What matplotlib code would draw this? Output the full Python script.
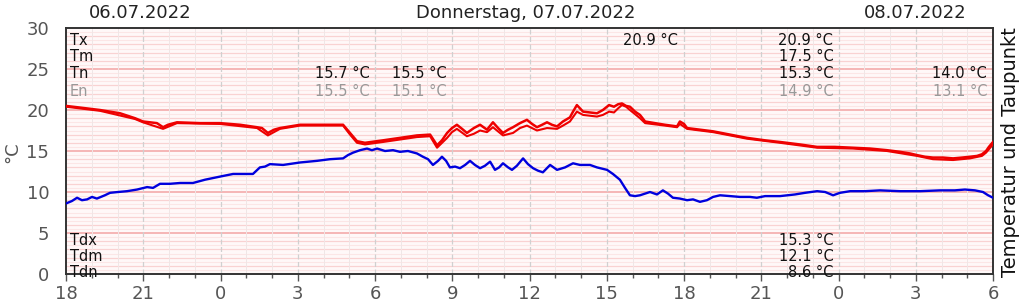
import numpy as np
import matplotlib
matplotlib.use("Agg")
import matplotlib.pyplot as plt
from matplotlib.ticker import MultipleLocator

# hours counted from 06.07.2022 18:00
temp_h = [0, 0.54, 1.32, 2.10, 2.68, 2.99, 3.26, 3.53, 3.77, 3.96,
          4.31, 5.20, 5.98, 6.76, 7.42, 7.61, 7.84, 8.08, 8.31, 9.09,
          9.86, 10.76, 11.03, 11.30, 11.61, 12.31, 12.97, 13.63, 14.14, 14.41,
          14.60, 14.80, 14.99, 15.18, 15.38, 15.57, 15.84, 16.08, 16.35, 16.58,
          16.78, 16.97, 17.17, 17.36, 17.63, 17.90, 18.10, 18.29, 18.49, 18.68,
          18.87, 19.07, 19.30, 19.57, 19.69, 19.84, 19.96, 20.08, 20.35, 20.62,
          20.85, 21.09, 21.28, 21.44, 21.59, 21.75, 21.90, 22.10, 22.29, 22.49,
          22.87, 23.26, 23.73, 23.84, 24.00, 24.12, 24.62, 25.13, 25.79, 26.45,
          27.15, 27.73, 28.50, 29.17, 29.86, 30.56, 31.22, 31.88, 32.39, 32.78,
          33.05, 33.36, 33.67, 34.06, 34.45, 34.80, 35.11, 35.38, 35.57, 35.73,
          35.84, 36.0]
temp = [20.5, 20.3, 20.0, 19.6, 19.0, 18.6, 18.5, 18.4, 17.9, 18.2,
        18.5, 18.4, 18.4, 18.2, 17.9, 17.8, 17.2, 17.6, 17.8, 18.2,
        18.2, 18.2, 17.2, 16.2, 16.0, 16.3, 16.6, 16.9, 17.0, 15.7,
        16.3, 17.2, 17.8, 18.2, 17.7, 17.2, 17.8, 18.2, 17.6, 18.5,
        17.8, 17.2, 17.6, 17.9, 18.4, 18.8, 18.3, 17.9, 18.2, 18.5,
        18.2, 18.0, 18.6, 19.1, 19.8, 20.6, 20.2, 19.8, 19.7, 19.6,
        20.0, 20.6, 20.4, 20.7, 20.8, 20.5, 20.4, 19.8, 19.4, 18.6,
        18.4, 18.2, 18.0, 18.6, 18.3, 17.8, 17.6, 17.4, 17.0, 16.6,
        16.3, 16.1, 15.8, 15.5, 15.5, 15.4, 15.3, 15.1, 14.9, 14.7,
        14.5, 14.3, 14.2, 14.2, 14.1, 14.2, 14.3, 14.4, 14.6, 15.0,
        15.5, 16.1]

temp2_h = [0, 1.32, 2.68, 2.99, 3.77, 4.31, 5.98, 7.42, 7.84, 8.31,
           9.09, 10.76, 11.03, 11.30, 11.61, 12.31, 13.63, 14.14, 14.41, 14.80,
           14.99, 15.18, 15.57, 15.84, 16.08, 16.35, 16.58, 16.97, 17.36, 17.63,
           17.90, 18.29, 18.68, 19.07, 19.30, 19.57, 19.84, 20.08, 20.35, 20.62,
           20.85, 21.09, 21.28, 21.44, 21.59, 21.75, 21.90, 22.29, 22.49, 23.26,
           23.73, 23.84, 24.12, 25.13, 26.45, 27.73, 29.17, 30.56, 31.88, 33.05,
           33.67, 34.45, 35.11, 35.57, 35.73, 36.0]
temp2 = [20.4, 19.9, 18.9, 18.5, 17.7, 18.4, 18.3, 17.8, 16.9, 17.7,
         18.1, 18.1, 17.0, 16.0, 15.8, 16.1, 16.7, 16.8, 15.4, 16.6,
         17.3, 17.7, 16.8, 17.1, 17.5, 17.3, 17.9, 16.9, 17.2, 17.8,
         18.1, 17.5, 17.8, 17.7, 18.1, 18.6, 19.8, 19.4, 19.3, 19.2,
         19.4, 19.8, 19.7, 20.2, 20.6, 20.4, 20.0, 19.0, 18.4, 18.1,
         17.9, 18.3, 17.7, 17.3, 16.5, 16.0, 15.4, 15.3, 15.0, 14.4,
         14.0, 13.9, 14.1, 14.4, 14.8, 15.8]

dew_h = [0, 0.23, 0.43, 0.62, 0.82, 1.01, 1.20, 1.51, 1.71, 2.02,
         2.37, 2.76, 3.15, 3.38, 3.65, 4.04, 4.43, 4.93, 5.40, 5.86,
         6.17, 6.49, 6.95, 7.26, 7.53, 7.73, 7.92, 8.43, 9.09, 9.75,
         10.25, 10.76, 10.95, 11.15, 11.42, 11.69, 11.88, 12.08, 12.39, 12.70,
         12.97, 13.28, 13.63, 13.86, 14.06, 14.25, 14.45, 14.60, 14.76, 14.91,
         15.11, 15.30, 15.50, 15.69, 15.88, 16.08, 16.27, 16.47, 16.66, 16.82,
         16.97, 17.17, 17.32, 17.51, 17.75, 17.94, 18.14, 18.33, 18.52, 18.80,
         19.07, 19.38, 19.69, 19.96, 20.35, 20.62, 21.01, 21.24, 21.51, 21.71,
         21.90, 22.10, 22.29, 22.68, 22.95, 23.18, 23.38, 23.57, 23.84, 24.12,
         24.35, 24.62, 24.89, 25.13, 25.40, 25.79, 26.17, 26.56, 26.83, 27.15,
         27.73, 28.31, 28.70, 29.17, 29.48, 29.79, 30.06, 30.45, 31.03, 31.61,
         32.39, 33.17, 33.94, 34.52, 34.91, 35.30, 35.61, 35.81, 36.0]
dew = [8.6, 8.9, 9.3, 9.0, 9.1, 9.4, 9.2, 9.6, 9.9, 10.0,
       10.1, 10.3, 10.6, 10.5, 11.0, 11.0, 11.1, 11.1, 11.5, 11.8,
       12.0, 12.2, 12.2, 12.2, 13.0, 13.1, 13.4, 13.3, 13.6, 13.8,
       14.0, 14.1, 14.5, 14.8, 15.1, 15.3, 15.1, 15.3, 15.0, 15.1,
       14.9, 15.0, 14.7, 14.3, 14.0, 13.3, 13.8, 14.3, 13.8, 13.0,
       13.1, 12.9, 13.3, 13.8, 13.3, 12.9, 13.2, 13.7, 12.7, 13.0,
       13.5, 13.0, 12.7, 13.2, 14.1, 13.4, 12.9, 12.6, 12.4, 13.3,
       12.7, 13.0, 13.5, 13.3, 13.3, 13.0, 12.7, 12.2, 11.5, 10.5,
       9.6, 9.5, 9.6, 10.0, 9.7, 10.2, 9.8, 9.3, 9.2, 9.0,
       9.1, 8.8, 9.0, 9.4, 9.6, 9.5, 9.4, 9.4, 9.3, 9.5,
       9.5, 9.7, 9.9, 10.1, 10.0, 9.6, 9.9, 10.1, 10.1, 10.2,
       10.1, 10.1, 10.2, 10.2, 10.3, 10.2, 10.0, 9.6, 9.3]

tick_hours = [0, 3, 6, 9, 12, 15, 18, 21, 24, 27, 30, 33, 36]
tick_labels = ["18", "21", "0", "3", "6", "9", "12", "15", "18", "21", "0", "3", "6"]

day_titles = ["06.07.2022", "Donnerstag, 07.07.2022", "08.07.2022"]
temp_names = ["Tx", "Tm", "Tn", "En"]
dew_names = ["Tdx", "Tdm", "Tdn"]
# (hour of right edge, row, text)
temp_stats = [(11.8, 2, "15.7 °C"), (11.8, 3, "15.5 °C"),
              (14.8, 2, "15.5 °C"), (14.8, 3, "15.1 °C"),
              (23.77, 0, "20.9 °C"),
              (29.8, 0, "20.9 °C"), (29.8, 1, "17.5 °C"), (29.8, 2, "15.3 °C"), (29.8, 3, "14.9 °C"),
              (35.77, 2, "14.0 °C"), (35.77, 3, "13.1 °C")]
dew_stats = ["15.3 °C", "12.1 °C", "8.6 °C"]

fig = plt.figure(figsize=(10.24, 3.04), dpi=100)
ax = fig.add_axes([66 / 1024, 1 - 274 / 304, 927 / 1024, 246 / 304])
ax.set_facecolor("#fff8f8")

ax.plot(temp2_h, temp2, color="#ee0000", lw=1.5, zorder=3)
ax.plot(temp_h, temp, color="#ee0000", lw=1.8, zorder=3)
ax.plot(dew_h, dew, color="#0000dd", lw=1.7, zorder=3)

ax.set_xlim(0, 36)
ax.set_ylim(0, 30)
ax.set_xticks(tick_hours)
ax.set_xticklabels(tick_labels)
ax.xaxis.set_minor_locator(MultipleLocator(1))
ax.set_yticks(np.arange(0, 31, 5))
ax.yaxis.set_minor_locator(MultipleLocator(1))

# grid
for y in np.arange(0.5, 30, 0.5):
    if y % 5 == 0:
        ax.axhline(y, color="#f4b0b0", lw=1.3, zorder=1)
    elif y % 1 == 0:
        ax.axhline(y, color="#f9d2d2", lw=0.9, zorder=1)
    else:
        ax.axhline(y, color="#fce6e6", lw=0.8, zorder=1)
for h in range(1, 36):
    if h % 3 == 0:
        ax.axvline(h, color="#d0d0d0", lw=0.9, ls=(0, (4, 2)), zorder=1)
    else:
        ax.axvline(h, color="#f0e6e6", lw=0.7, zorder=1)

for s in ax.spines.values():
    s.set_color("#333333")
    s.set_linewidth(1.4)
ax.tick_params(axis="both", which="major", labelsize=13, labelcolor="#555555", color="#555555")
ax.tick_params(axis="x", which="major", length=5, width=1, pad=3)
ax.tick_params(axis="x", which="minor", length=3, width=1, color="#555555")
ax.tick_params(axis="y", which="major", length=0, pad=12)
ax.tick_params(axis="y", which="minor", length=0)

fig.text(12 / 1024, 0.5, "°C", rotation=90, fontsize=13, color="#555555",
         ha="center", va="center")
fig.text(1010 / 1024, 0.5, "Temperatur und Taupunkt", rotation=90, fontsize=14,
         color="#111111", ha="center", va="center")

fig.text(140 / 1024, 1 - 13 / 304, day_titles[0], fontsize=13, color="#222222", ha="center", va="center")
fig.text(526 / 1024, 1 - 13 / 304, day_titles[1], fontsize=13, color="#222222", ha="center", va="center")
fig.text(915 / 1024, 1 - 13 / 304, day_titles[2], fontsize=13, color="#222222", ha="center", va="center")

row_y = [28.5, 26.5, 24.4, 22.3]
for i, n in enumerate(temp_names):
    ax.text(0.15, row_y[i], n, fontsize=10.5, color="#999999" if n == "En" else "#111111",
            va="center", ha="left", zorder=5)
for h, r, t in temp_stats:
    ax.text(h, row_y[r], t, fontsize=10.5, color="#999999" if r == 3 else "#111111",
            va="center", ha="right", zorder=5)

drow_y = [4.1, 2.1, 0.15]
for i, n in enumerate(dew_names):
    ax.text(0.15, drow_y[i], n, fontsize=10.5, color="#111111", va="center", ha="left", zorder=5)
    ax.text(29.8, drow_y[i], dew_stats[i], fontsize=10.5, color="#111111", va="center", ha="right", zorder=5)

fig.savefig("out.png", dpi=100)
